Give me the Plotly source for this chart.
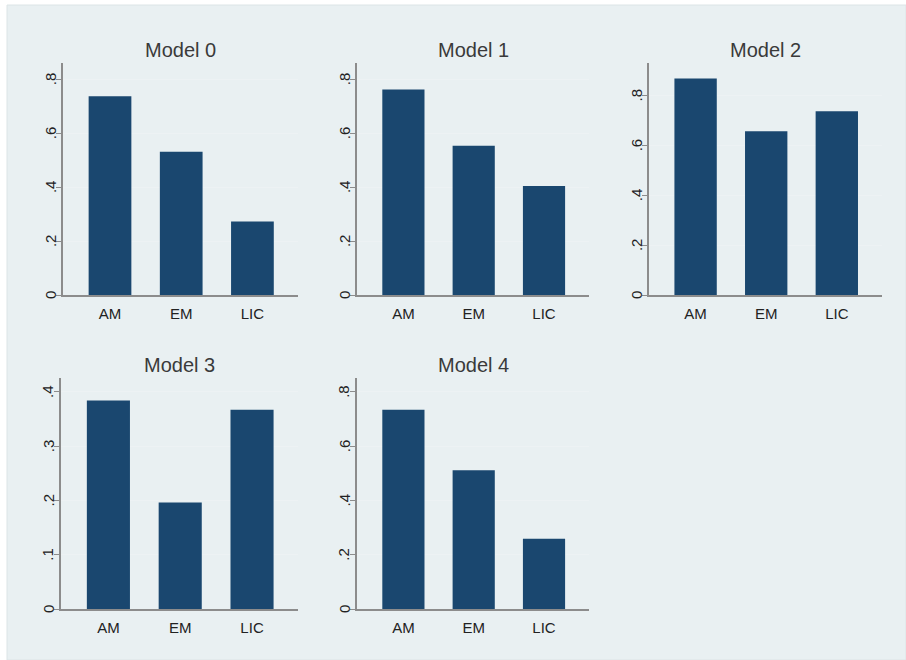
import plotly.graph_objects as go

# Share of each country group, by model specification
categories = ["AM", "EM", "LIC"]
model_titles = ["Model 0", "Model 1", "Model 2", "Model 3", "Model 4"]
model0 = [0.737, 0.531, 0.272]
model1 = [0.762, 0.553, 0.404]
model2 = [0.868, 0.656, 0.737]
model3 = [0.384, 0.196, 0.367]
model4 = [0.734, 0.511, 0.259]

ticks_08 = [0, 0.2, 0.4, 0.6, 0.8]
ticks_08_text = ["0", ".2", ".4", ".6", ".8"]
ticks_04 = [0, 0.1, 0.2, 0.3, 0.4]
ticks_04_text = ["0", ".1", ".2", ".3", ".4"]

W, H = 906, 660
BG = "#E9F0F2"
BAR = "#1A476F"
AXIS = "#8C8C8C"
GRID = "#EDF2F4"
TEXT = "#3A3A3A"
LABEL = "#222222"
FONT = "Liberation Sans, Arial, sans-serif"

# panel boxes in pixels: (left, right, top, bottom)
boxes = [
    (63, 298, 63, 295),
    (357, 589, 63, 295),
    (649, 882, 63, 295),
    (61, 298, 378, 609),
    (357, 589, 378, 609),
]
y_tops = [0.86, 0.86, 0.93, 0.4256, 0.851]
series = [model0, model1, model2, model3, model4]
tick_sets = [
    (ticks_08, ticks_08_text),
    (ticks_08, ticks_08_text),
    (ticks_08, ticks_08_text),
    (ticks_04, ticks_04_text),
    (ticks_08, ticks_08_text),
]

fig = go.Figure()
annotations = []
layout_axes = {}

for i, (vals, box, ytop, (tv, tt), title) in enumerate(
        zip(series, boxes, y_tops, tick_sets, model_titles)):
    n = "" if i == 0 else str(i + 1)
    l, r, t, b = box
    fig.add_trace(go.Bar(
        x=categories, y=vals, width=0.6,
        marker=dict(color=BAR, line=dict(width=0)),
        xaxis="x" + n, yaxis="y" + n, showlegend=False,
        hoverinfo="x+y",
    ))
    layout_axes["xaxis" + n] = dict(
        domain=[l / W, r / W], anchor="y" + n,
        type="category", range=[-0.66, 2.64],
        showline=True, linecolor=AXIS, linewidth=1.5,
        showgrid=False, zeroline=False, ticks="", ticklabelstandoff=4,
        tickfont=dict(family=FONT, size=15, color=LABEL),
        fixedrange=True,
    )
    layout_axes["yaxis" + n] = dict(
        domain=[1 - b / H, 1 - t / H], anchor="x" + n,
        range=[0, ytop],
        tickvals=tv, showticklabels=False,
        ticks="outside", ticklen=5, tickwidth=1.2, tickcolor=AXIS,
        showline=True, linecolor=AXIS, linewidth=1.5,
        showgrid=True, gridcolor=GRID, gridwidth=1,
        zeroline=False,
        fixedrange=True,
    )
    # rotated y tick labels, placed on the panel's own y scale
    for v, txt in zip(tv, tt):
        annotations.append(dict(
            text=txt, xref="paper", yref="y" + n,
            x=(l - 13) / W, y=v, textangle=-90,
            xanchor="center", yanchor="middle", showarrow=False,
            font=dict(family=FONT, size=15, color=LABEL),
        ))
    annotations.append(dict(
        text=title, xref="paper", yref="paper",
        x=(l + r) / 2 / W, y=1 - (t - 13) / H,
        xanchor="center", yanchor="middle", showarrow=False,
        font=dict(family=FONT, size=20, color=TEXT),
    ))

fig.update_layout(
    width=W, height=H,
    margin=dict(l=0, r=0, t=0, b=0),
    paper_bgcolor="white",
    plot_bgcolor="white",
    bargap=0.4,
    annotations=annotations,
    shapes=[dict(
        type="rect", xref="paper", yref="paper",
        x0=7 / W, x1=1, y0=0, y1=1 - 5 / H,
        fillcolor=BG, line=dict(color="#DCE4E6", width=1), layer="below",
    )],
    **layout_axes,
)

fig.write_html("out.html")
